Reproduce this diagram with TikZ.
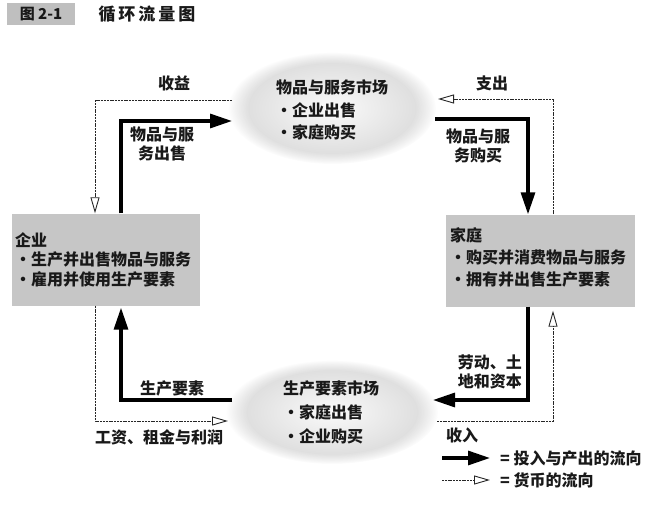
\documentclass[tikz,border=0pt]{standalone}
\usepackage{fontspec}
\newfontfamily\cjk{Noto Sans CJK SC}
\usetikzlibrary{arrows.meta,fadings}
\begin{document}
\begin{tikzpicture}[x=1pt,y=-1pt,
  every node/.style={font=\cjk\bfseries\fontsize{16}{19}\selectfont, inner sep=0pt, text=black!90},
  good/.style={line width=3.2pt, -{Triangle[length=22pt,width=14pt]}},
  money/.style={line width=0.9pt, gray!30!black, dash pattern=on 2pt off 0.8pt,
     -{Triangle[open,length=16pt,width=9pt,line width=0.9pt]}},
  agent/.style={fill=gray!45, minimum width=#1, minimum height=92pt},
  mkt/.style={inner color=gray!4, outer color=gray!30, path fading=circle with fuzzy edge 20 percent},
  lbl/.style={align=center},
]
\useasboundingbox (0,0) rectangle (667,511);

% title
\node[fill=gray!50, minimum width=68pt, minimum height=22pt, font=\cjk\bfseries\fontsize{15}{18}\selectfont] (fig) at (41,14) {图 2-1};
\node[font=\cjk\bfseries\fontsize{17}{20}\selectfont] (ttl) at (147,14) {循\hspace{3pt}环\hspace{3pt}流\hspace{3pt}量\hspace{3pt}图};

% markets
\shade[mkt] (332,108) ellipse [x radius=104, y radius=56];
\shade[mkt] (332,412) ellipse [x radius=106, y radius=52];
\node[align=left, anchor=west, font=\cjk\bfseries\fontsize{16}{22.5}\selectfont] (gm) at (276,110) {物品与服务市场\\•企业出售\\•家庭购买};
\node[align=left, anchor=west, font=\cjk\bfseries\fontsize{16}{24}\selectfont] (fm) at (283,412) {生产要素市场\\•家庭出售\\•企业购买};

% agents
\node[agent=188pt] (firm) at (106,259.5) {};
\node[align=left, anchor=west, font=\cjk\bfseries\fontsize{16}{19.5}\selectfont] (firmt) at (15,259.5) {企业\\•生产并出售物品与服务\\•雇用并使用生产要素};
\node[agent=189pt] (house) at (540.5,260.5) {};
\node[align=left, anchor=west, font=\cjk\bfseries\fontsize{16}{22}\selectfont] (houset) at (450,257) {家庭\\•购买并消费物品与服务\\•拥有并出售生产要素};

% coordinates
\coordinate (tl) at (95,100);   \coordinate (revA) at (232,100);
\coordinate (tl2) at (121,121); \coordinate (gsA) at (232,121);
\coordinate (tr) at (553,99);   \coordinate (expA) at (438,99);
\coordinate (tr2) at (528,119); \coordinate (gbA) at (435,119);
\coordinate (br2) at (528,400); \coordinate (lbA) at (433,400);
\coordinate (br) at (553,421);  \coordinate (incA) at (437,421);
\coordinate (bl2) at (121,400); \coordinate (fpA) at (232,400);
\coordinate (bl) at (95,421);   \coordinate (wA) at (228,421);

% flows
\draw[money] (revA) -- (tl) -- (tl |- firm.north);
\draw[good] (tl2 |- firm.north) -- (tl2) -- (gsA);
\draw[money] (tr |- house.north) -- (tr) -- (expA);
\draw[good] (gbA) -- (tr2) -- (tr2 |- house.north);
\draw[good] (br2 |- house.south) -- (br2) -- (lbA);
\draw[money] (incA) -- (br) -- ([yshift=-4pt]br |- house.south);
\draw[good] (fpA) -- (bl2) -- ([yshift=-2pt]bl2 |- firm.south);
\draw[money] (tl |- firm.south) -- (bl) -- (wA);

% labels
\node (l1) at (174,83) {收益};
\node[lbl] (l2) at (162,144) {物品与服\\务出售};
\node (l3) at (492,83) {支出};
\node[lbl] (l4) at (478,146) {物品与服\\务购买};
\node[align=right, anchor=east] (l5) at (522,372) {劳动、土\\地和资本};
\node (l6) at (172,388) {生产要素};
\node (l7) at (159,437) {工资、租金与利润};
\node (l8) at (462,435) {收入};

% legend
\coordinate (lg1a) at (442,458); \coordinate (lg1b) at (490,458);
\coordinate (lg2a) at (442,480); \coordinate (lg2b) at (490,480);
\draw[good] (lg1a) -- (lg1b);
\draw[money] (lg2a) -- (lg2b);
\node[anchor=west] (lt1) at (500,458) {= 投入与产出的流向};
\node[anchor=west] (lt2) at (500,480) {= 货币的流向};
\end{tikzpicture}
\end{document}
